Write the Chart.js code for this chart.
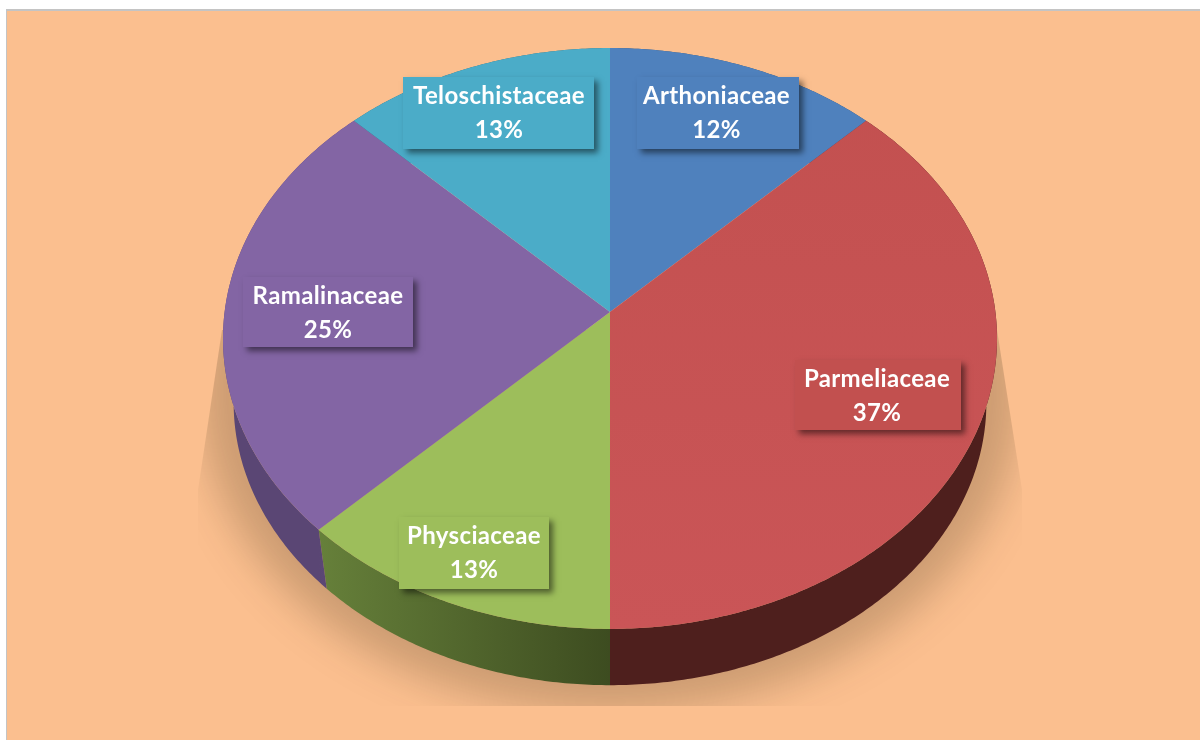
<!DOCTYPE html>
<html>
<head>
<meta charset="utf-8">
<style>
  html, body { margin: 0; padding: 0; background: #fff; }
  canvas { display: block; }
</style>
<script src="https://cdn.jsdelivr.net/npm/chart.js@4/dist/chart.umd.js"></script>
</head>
<body>
<canvas id="chart" width="1200" height="740"></canvas>
<script>
const families = ['Arthoniaceae', 'Parmeliaceae', 'Physciaceae', 'Ramalinaceae', 'Teloschistaceae'];
const speciesCounts = [1, 3, 1, 2, 1];
const shownPercents = [12, 37, 13, 25, 13];
const topColors = ['#4F81BD', '#C2504F', '#9DBE5B', '#8365A4', '#4BACC8'];
const topColorsNear = ['#4F81BD', '#CA5557', '#9DBE5B', '#8365A4', '#4BACC8'];

// side wall colours: [left end, right end]
const wallColors = [
  ['#2F4D72', '#2F4D72'],
  ['#4E1F1D', '#4E1F1D'],
  ['#66803A', '#3D4C20'],
  ['#5A4674', '#5F4A7B'],
  ['#2D6878', '#2D6878']
];

// tilted disc: unit circle point -> screen
const apex = { x: 610, y: 312 };
const radius = { x: 385.4, y: 288 };
const tilt = -0.0912;
const wall = { y: 377, scale: 0.9725 };

function project(a, rim) {
  const u = Math.cos(a), v = Math.sin(a);
  const w = 1 + tilt * v;
  const s = rim ? wall.scale : 1;
  return {
    x: apex.x + s * radius.x * u / w,
    y: (rim ? wall.y : apex.y) + s * radius.y * v / w
  };
}

function arcPath(ctx, from, to, rim, first) {
  const steps = Math.max(2, Math.ceil(Math.abs(to - from) / 0.01));
  for (let i = 0; i <= steps; i++) {
    const p = project(from + (to - from) * i / steps, rim);
    if (i === 0 && first) ctx.moveTo(p.x, p.y);
    else ctx.lineTo(p.x, p.y);
  }
}

const tiltedPie = {
  id: 'tiltedPie',
  beforeDraw(chart) {
    const ctx = chart.ctx;
    ctx.save();
    ctx.fillStyle = '#fff';
    ctx.fillRect(0, 0, 1200, 740);
    ctx.fillStyle = '#C4C4C4';
    ctx.fillRect(6, 9, 1194, 731);
    ctx.fillStyle = '#FBBF8F';
    ctx.fillRect(7, 11, 1193, 729);

    // ground shadow
    ctx.beginPath();
    ctx.moveTo(222, 330);
    ctx.lineTo(198, 490);
    ctx.lineTo(198, 706);
    ctx.lineTo(1022, 706);
    ctx.lineTo(1022, 490);
    ctx.lineTo(997, 330);
    ctx.closePath();
    ctx.clip();
    ctx.filter = 'blur(20px)';
    ctx.fillStyle = 'rgba(40,30,10,0.22)';
    ctx.beginPath();
    ctx.ellipse(610, 392, 410, 320, 0, 0, Math.PI * 2);
    ctx.fill();
    ctx.restore();
  },
  beforeDatasetsDraw(chart) {
    const ctx = chart.ctx;
    const arcs = chart.getDatasetMeta(0).data;
    ctx.save();

    arcs.forEach((arc, i) => {
      const xs = [project(arc.startAngle).x, project(arc.endAngle).x];
      const grad = ctx.createLinearGradient(Math.min(...xs), 0, Math.max(...xs), 0);
      grad.addColorStop(0, wallColors[i][0]);
      grad.addColorStop(1, wallColors[i][1]);
      ctx.fillStyle = grad;
      ctx.beginPath();
      arcPath(ctx, arc.startAngle, arc.endAngle, false, true);
      arcPath(ctx, arc.endAngle, arc.startAngle, true, false);
      ctx.closePath();
      ctx.fill();
    });

    arcs.forEach((arc, i) => {
      const grad = ctx.createLinearGradient(0, 48, 0, 629);
      grad.addColorStop(0, topColors[i]);
      grad.addColorStop(1, topColorsNear[i]);
      ctx.fillStyle = grad;
      ctx.beginPath();
      ctx.moveTo(apex.x, apex.y);
      arcPath(ctx, arc.startAngle, arc.endAngle, false, false);
      ctx.closePath();
      ctx.fill();
    });

    ctx.restore();
    return false;
  },
  // afterDatasetsDraw does not fire once beforeDatasetsDraw cancels
  afterDraw(chart, args, opts) {
    const ctx = chart.ctx;
    families.forEach((name, i) => {
      const b = opts.boxes[i];
      ctx.save();
      ctx.shadowColor = 'rgba(0,0,0,0.5)';
      ctx.shadowBlur = 6;
      ctx.shadowOffsetX = 4;
      ctx.shadowOffsetY = 4;
      ctx.fillStyle = topColors[i];
      ctx.fillRect(b.l, b.t, b.r - b.l, b.b - b.t);
      ctx.restore();

      ctx.save();
      ctx.fillStyle = '#fff';
      ctx.font = opts.font;
      ctx.letterSpacing = '0.35px';
      ctx.textAlign = 'center';
      ctx.textBaseline = 'alphabetic';
      ctx.fillText(name, b.c, b.t + 27);
      ctx.fillText(shownPercents[i] + '%', b.c, b.t + 61);
      ctx.restore();
    });
  }
};

new Chart(document.getElementById('chart').getContext('2d'), {
  type: 'pie',
  data: {
    labels: families,
    datasets: [{ data: speciesCounts, backgroundColor: topColors, borderWidth: 0 }]
  },
  options: {
    responsive: false,
    animation: false,
    plugins: {
      legend: { display: false },
      tooltip: { enabled: false },
      tiltedPie: {
        font: '700 24px Lato, Carlito, sans-serif',
        boxes: [
          { l: 637, r: 799, t: 77, b: 149, c: 716.5 },
          { l: 795, r: 961, t: 360, b: 430, c: 877 },
          { l: 399, r: 549, t: 517, b: 589, c: 474 },
          { l: 243, r: 413, t: 277, b: 347, c: 328 },
          { l: 403, r: 594, t: 77, b: 149, c: 499 }
        ]
      }
    }
  },
  plugins: [tiltedPie]
});
</script>
</body>
</html>
